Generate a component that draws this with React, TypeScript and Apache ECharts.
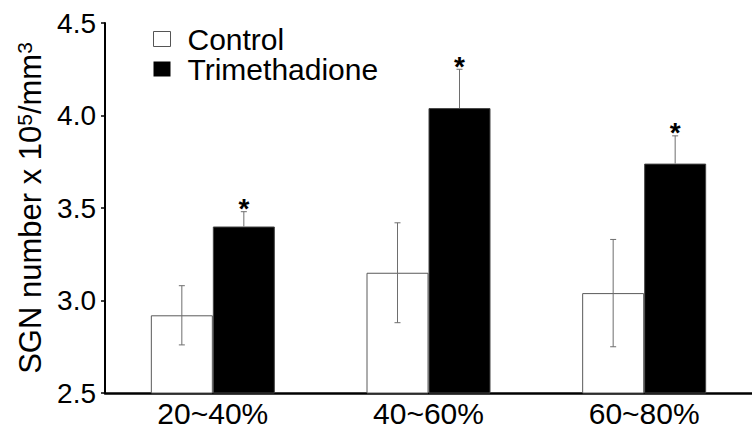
import React, { useEffect, useRef } from "react";
import * as echarts from "echarts";

const categories = ["20~40%", "40~60%", "60~80%"];
const controlMeans = [2.92, 3.15, 3.04];
const controlErr = [0.16, 0.27, 0.29];
const trimMeans = [3.4, 4.04, 3.74];
const trimErr = [0.08, 0.21, 0.15];
const significance = ["*", "*", "*"];
const yTicks = [2.5, 3.0, 3.5, 4.0, 4.5];

const FONT = "'Liberation Sans', Arial, Helvetica, sans-serif";
const BAR_W = 62;

export default function App() {
  const ref = useRef<HTMLDivElement>(null);
  useEffect(() => {
    if (!ref.current) return;
    const chart = echarts.init(ref.current, undefined, { renderer: "svg" });

    const errItem = (side: number, upOnly: boolean) => (params: any, api: any) => {
      const i = api.value(0);
      const m = api.value(1);
      const e = api.value(2);
      const top = api.coord([i, m + e]);
      const bot = api.coord(upOnly ? [i, m] : [i, m - e]);
      const x = top[0] + side * (BAR_W / 2);
      const cap = 3;
      const lineStyle = { stroke: "#6e6e6e", lineWidth: 1 };
      const children: any[] = [
        { type: "line", shape: { x1: x, y1: top[1], x2: x, y2: bot[1] }, style: lineStyle },
        { type: "line", shape: { x1: x - cap, y1: top[1], x2: x + cap, y2: top[1] }, style: lineStyle },
      ];
      if (!upOnly) {
        children.push({ type: "line", shape: { x1: x - cap, y1: bot[1], x2: x + cap, y2: bot[1] }, style: lineStyle });
      }
      const star = upOnly ? significance[params.dataIndex] : "";
      if (star) {
        children.push({
          type: "text",
          x: x,
          y: top[1] - 3,
          style: {
            text: star,
            fontSize: 28,
            fontWeight: "bold",
            fontFamily: FONT,
            fill: "#000",
            align: "center",
            verticalAlign: "middle",
          },
        });
      }
      return { type: "group", children };
    };

    chart.setOption({
      animation: false,
      backgroundColor: "#fff",
      textStyle: { fontFamily: FONT },
      legend: {
        orient: "vertical",
        left: 153,
        top: 24,
        padding: 0,
        itemGap: 0,
        itemWidth: 17,
        itemHeight: 15,
        selectedMode: false,
        textStyle: { fontSize: 30, lineHeight: 30, color: "#000", fontFamily: FONT, padding: [0, 0, 0, 12] },
        data: [
          { name: "Control", icon: "rect", itemStyle: { color: "#fff", borderColor: "#555", borderWidth: 1 } },
          { name: "Trimethadione", icon: "rect", itemStyle: { color: "#000", borderColor: "#000", borderWidth: 0 } },
        ],
      },
      grid: { left: 105, top: 23, bottom: 40, right: -12, containLabel: false },
      xAxis: {
        type: "category",
        data: categories,
        axisLine: { show: true, lineStyle: { color: "#000", width: 2.5 } },
        axisTick: { show: false },
        axisLabel: { fontSize: 30, color: "#000", margin: 5, fontFamily: FONT },
      },
      yAxis: {
        type: "value",
        min: 2.5,
        max: 4.5,
        interval: 0.5,
        splitLine: { show: false },
        axisLine: { show: true, lineStyle: { color: "#000", width: 2 } },
        axisTick: { show: true, length: 4, lineStyle: { color: "#000", width: 1.5 } },
        axisLabel: {
          fontSize: 28,
          color: "#000",
          margin: 9,
          fontFamily: FONT,
          formatter: (v: number) => (yTicks.some((t) => Math.abs(t - v) < 1e-9) ? v.toFixed(1) : ""),
        },
        name: "SGN number x 10{sup|5}/mm{sup|3}",
        nameLocation: "middle",
        nameGap: 50,
        nameTextStyle: {
          fontSize: 31,
          color: "#000",
          fontFamily: FONT,
          rich: {
            sup: { fontSize: 21, verticalAlign: "top", color: "#000", fontFamily: FONT, padding: [0, 0, 12, 0] },
          },
        },
      },
      series: [
        {
          name: "Control",
          type: "bar",
          data: controlMeans,
          barWidth: BAR_W,
          barGap: "0%",
          itemStyle: { color: "#fff", borderColor: "#5a5a5a", borderWidth: 1 },
        },
        {
          name: "Trimethadione",
          type: "bar",
          data: trimMeans,
          barWidth: BAR_W,
          barGap: "0%",
          itemStyle: { color: "#000", borderColor: "#444", borderWidth: 1 },
        },
        {
          name: "ControlErr",
          type: "custom",
          renderItem: errItem(-1, false),
          data: categories.map((_, i) => [i, controlMeans[i], controlErr[i]]),
          z: 10,
          silent: true,
        },
        {
          name: "TrimErr",
          type: "custom",
          renderItem: errItem(1, true),
          data: categories.map((_, i) => [i, trimMeans[i], trimErr[i]]),
          z: 10,
          silent: true,
        },
      ],
    });
    return () => chart.dispose();
  }, []);
  return <div ref={ref} style={{ position: "fixed", left: 0, top: 0, width: 752, height: 433 }} />;
}
